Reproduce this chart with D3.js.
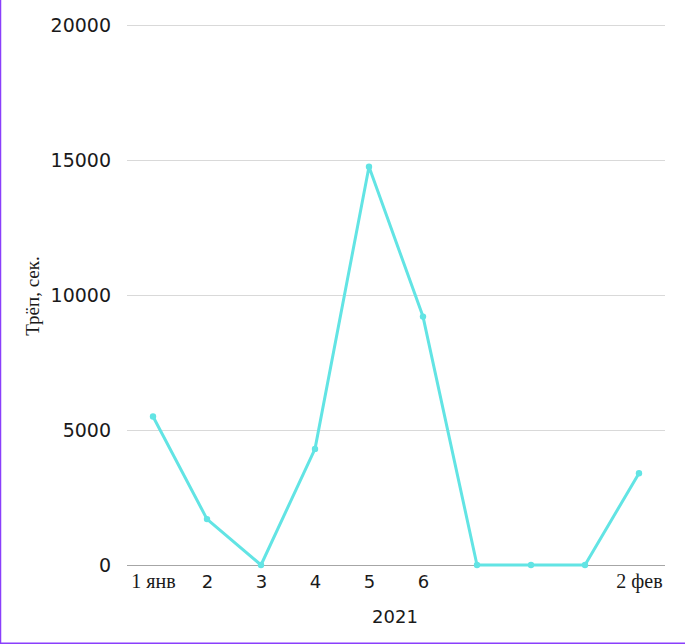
<!DOCTYPE html>
<html><head><meta charset="utf-8">
<script src="https://cdn.jsdelivr.net/npm/d3@7"></script>
<style>
html,body{margin:0;padding:0;background:#fff;}
svg{display:block;}
</style></head>
<body>
<script>
const categories = ["1 янв","2","3","4","5","6","","","","2 фев"];
const values = [5500, 1700, 0, 4300, 14750, 9200, 0, 0, 0, 3400];
const yTicks = [0, 5000, 10000, 15000, 20000];
const yTitle = "Трёп, сек.";
const xTitle = "2021";

const W = 685, H = 644;
const svg = d3.select("body").append("svg").attr("width", W).attr("height", H);

// border (left & bottom)
svg.append("line").attr("x1",0.5).attr("x2",0.5).attr("y1",0).attr("y2",H).attr("stroke","#8a3ffc").attr("stroke-width",1.5);
svg.append("line").attr("x1",0).attr("x2",W).attr("y1",H-0.75).attr("y2",H-0.75).attr("stroke","#8a3ffc").attr("stroke-width",1.5);

const x = d3.scalePoint().domain(d3.range(categories.length)).range([126, 666]).padding(0.5);
const y = d3.scaleLinear().domain([0, 20000]).range([565, 25]);

// gridlines
svg.append("g").selectAll("line").data(yTicks.filter(d=>d>0)).join("line")
  .attr("x1",127).attr("x2",665)
  .attr("y1",d=>Math.round(y(d))+0.5).attr("y2",d=>Math.round(y(d))+0.5)
  .attr("stroke","#d9d9d9").attr("stroke-width",1);

// x axis baseline
svg.append("line").attr("x1",127).attr("x2",665).attr("y1",565.5).attr("y2",565.5)
  .attr("stroke","#a6a6a6").attr("stroke-width",1);

// y tick labels
const yAxis = d3.axisLeft(y).tickValues(yTicks).tickSize(0).tickPadding(0).tickFormat(d3.format("d"));
const gy = svg.append("g").attr("transform","translate(111,0)").call(yAxis);
gy.select(".domain").remove();
gy.selectAll("text").attr("font-family","DejaVu Sans, sans-serif").attr("font-size",19)
  .attr("fill","#1a1a1a").attr("dy","0.36em");

// x tick labels
const xAxis = d3.axisBottom(x).tickSize(0).tickPadding(0).tickFormat(i=>categories[i]);
const gx = svg.append("g").attr("transform","translate(0,565)").call(xAxis);
gx.select(".domain").remove();
gx.selectAll("text")
  .attr("y",23).attr("dy",0)
  .attr("font-family",(i)=>/[а-яё]/i.test(categories[i]) ? "Liberation Serif, serif" : "DejaVu Sans, sans-serif")
  .attr("font-size",(i)=>/[а-яё]/i.test(categories[i]) ? 20 : 18)
  .attr("fill","#1a1a1a");

// axis titles
svg.append("text").attr("x",395).attr("y",623).attr("text-anchor","middle")
  .attr("font-family","DejaVu Sans, sans-serif").attr("font-size",18).attr("fill","#1a1a1a").text(xTitle);
svg.append("text").attr("transform","translate(39,296) rotate(-90)").attr("text-anchor","middle")
  .attr("font-family","Liberation Serif, serif").attr("font-size",19).attr("fill","#1a1a1a").text(yTitle);

// line
const line = d3.line().x((d,i)=>x(i)).y(d=>y(d));
svg.append("path").datum(values).attr("d",line).attr("fill","none")
  .attr("stroke","#62e4e4").attr("stroke-width",3).attr("stroke-linejoin","round");
svg.append("g").selectAll("circle").data(values).join("circle")
  .attr("cx",(d,i)=>x(i)).attr("cy",d=>y(d)).attr("r",3.2).attr("fill","#62e4e4");
</script>
</body></html>
